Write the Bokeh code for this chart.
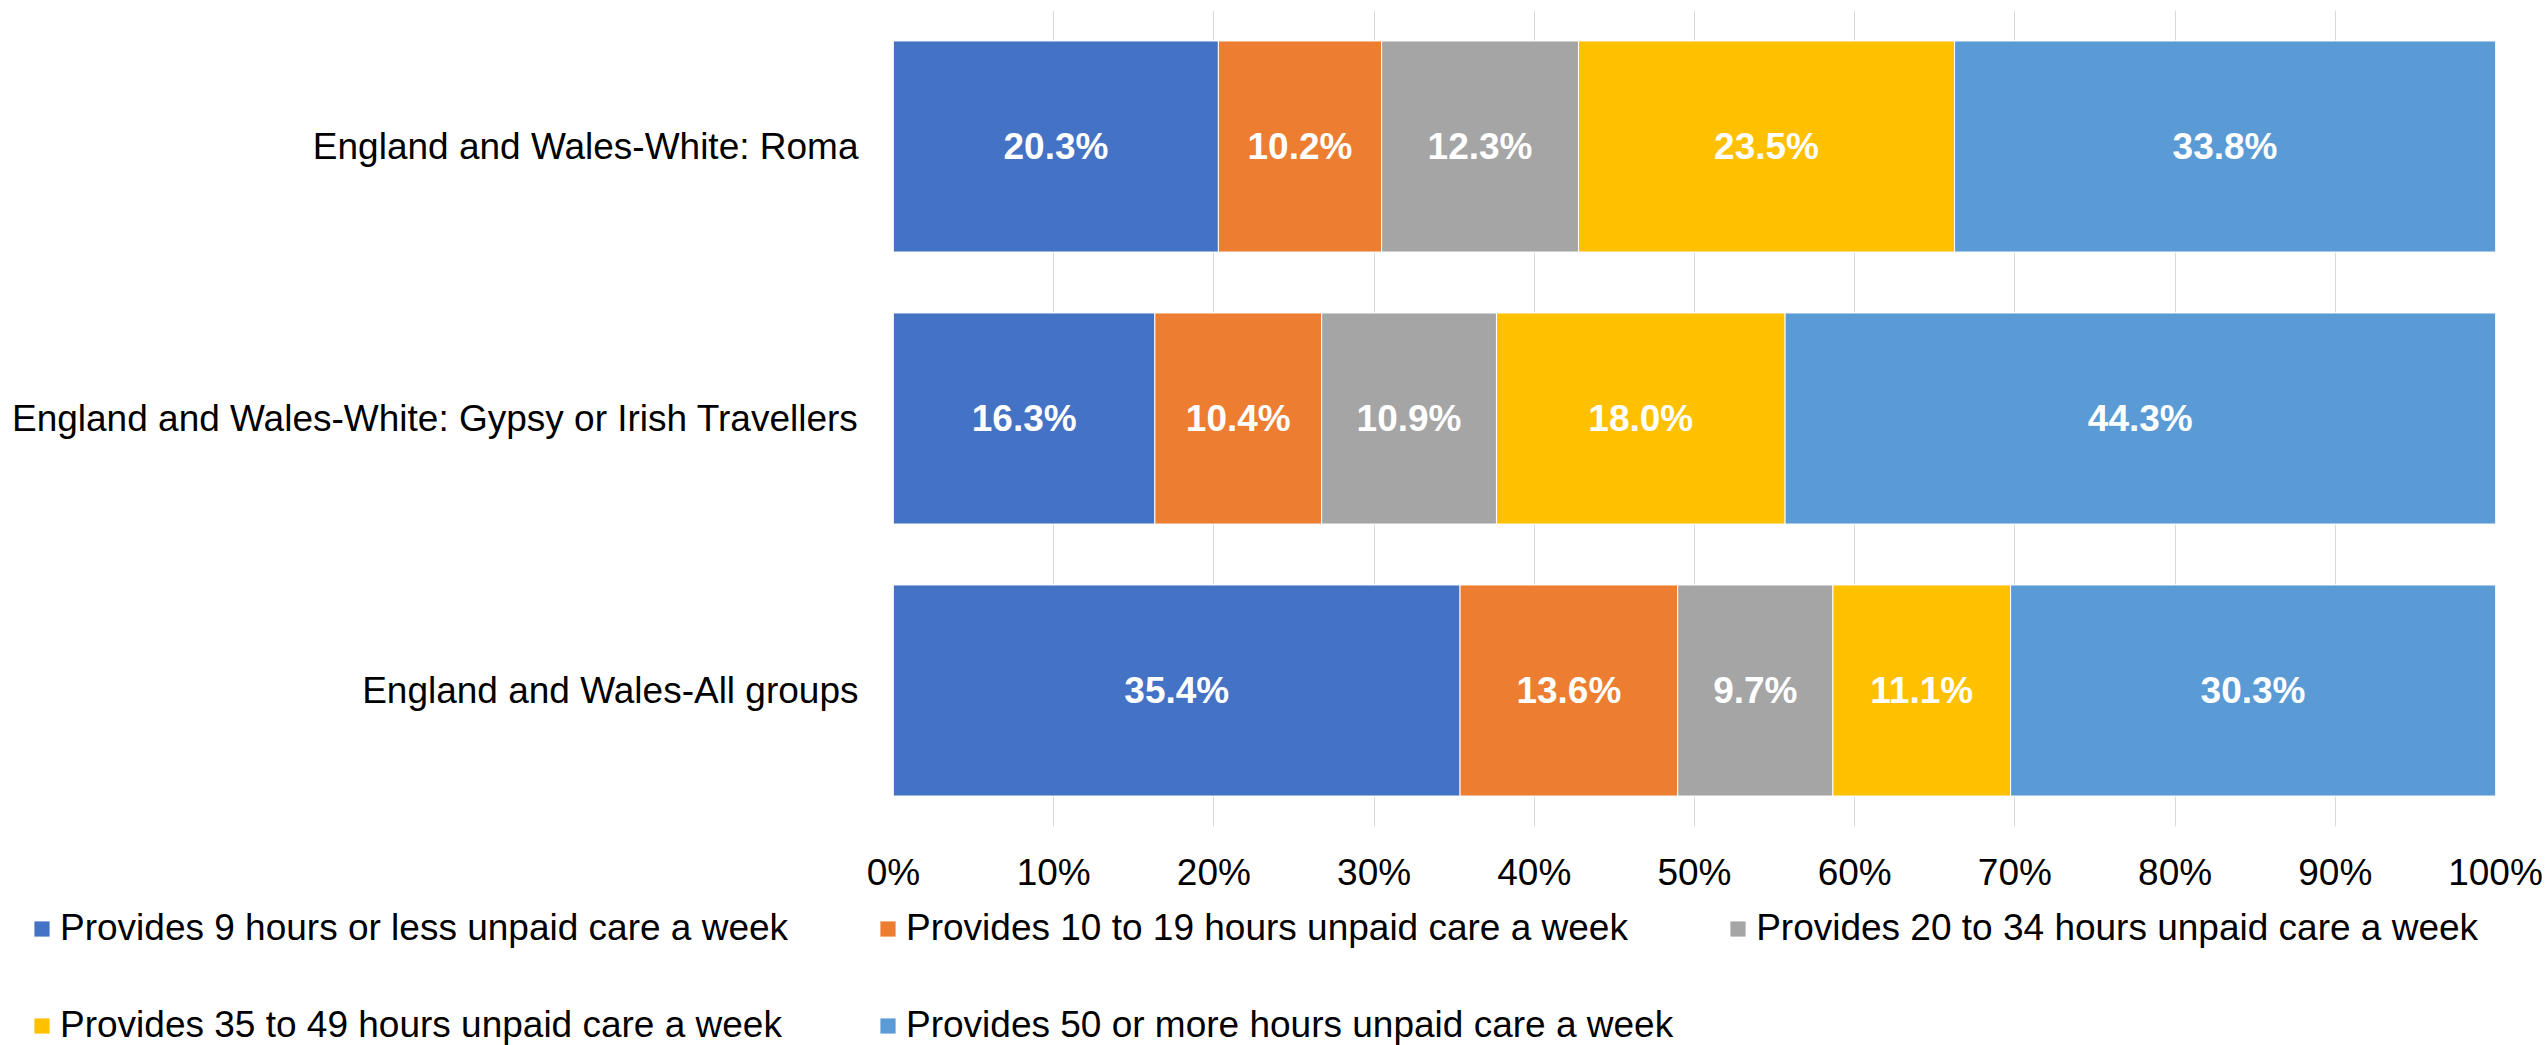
from bokeh.plotting import figure
from bokeh.layouts import column
from bokeh.models import (ColumnDataSource, Range1d, FactorRange, FixedTicker,
                          PrintfTickFormatter, Legend, LegendItem)
from bokeh.core.properties import value
from bokeh.embed import file_html
from bokeh.resources import INLINE

# ---------------- data ----------------
categories = [
    "England and Wales-All groups",
    "England and Wales-White: Gypsy or Irish Travellers",
    "England and Wales-White: Roma",
]
series_names = [
    "Provides 9 hours or less unpaid care a week",
    "Provides 10 to 19 hours unpaid care a week",
    "Provides 20 to 34 hours unpaid care a week",
    "Provides 35 to 49 hours unpaid care a week",
    "Provides 50 or more hours unpaid care a week",
]
care_9_or_less = [35.4, 16.3, 20.3]
care_10_to_19 = [13.6, 10.4, 10.2]
care_20_to_34 = [9.7, 10.9, 12.3]
care_35_to_49 = [11.1, 18.0, 23.5]
care_50_or_more = [30.3, 44.3, 33.8]
x_tick_values = [0, 10, 20, 30, 40, 50, 60, 70, 80, 90, 100]

series_values = [care_9_or_less, care_10_to_19, care_20_to_34,
                 care_35_to_49, care_50_or_more]
colors = ["#4472C4", "#ED7D31", "#A5A5A5", "#FFC000", "#5B9BD5"]

FONT = "Liberation Sans"
FS = "37px"

p = figure(width=2547, height=901,
           y_range=FactorRange(*categories), x_range=Range1d(0, 100),
           output_backend="svg", toolbar_location=None,
           min_border_left=893, min_border_right=52,
           min_border_top=10, min_border_bottom=75)
p.outline_line_color = None
p.frame_align = False

# 100% stacked: normalise each category total
totals = [sum(s[i] for s in series_values) for i in range(len(categories))]
left = [0.0] * len(categories)
for name, vals, col in zip(series_names, series_values, colors):
    share = [v / t * 100 for v, t in zip(vals, totals)]
    right = [l + s for l, s in zip(left, share)]
    src = ColumnDataSource(dict(
        cat=categories, left=left, right=right,
        mid=[(l + r) / 2 for l, r in zip(left, right)],
        lab=["%.1f%%" % v for v in vals]))
    p.hbar(y="cat", left="left", right="right", height=0.776, source=src,
           fill_color=col, line_color="white", line_width=1)
    p.text(x="mid", y="cat", text="lab", source=src, text_color="white",
           text_font=value(FONT), text_font_style="bold",
           text_font_size=FS, text_align="center", text_baseline="middle")
    left = right

# axes
p.xaxis.ticker = FixedTicker(ticks=x_tick_values)
p.xaxis.formatter = PrintfTickFormatter(format="%d%%")
for ax in (p.xaxis, p.yaxis):
    ax.axis_line_color = None
    ax.major_tick_line_color = None
    ax.minor_tick_line_color = None
    ax.major_tick_out = 0
    ax.major_tick_in = 0
    ax.major_label_text_font = FONT
    ax.major_label_text_font_size = FS
    ax.major_label_text_color = "#000000"
p.xaxis.major_label_standoff = 25
p.yaxis.major_label_standoff = 35

p.xgrid.ticker = FixedTicker(ticks=x_tick_values)
p.xgrid.grid_line_color = "#D9D9D9"
p.xgrid.grid_line_width = 1
p.ygrid.grid_line_color = None

# ---------------- legend strip ----------------
lg = figure(width=2547, height=144, x_range=Range1d(0, 1), y_range=Range1d(0, 1),
            output_backend="svg", toolbar_location=None,
            x_axis_location=None, y_axis_location=None,
            min_border_left=0, min_border_right=0,
            min_border_top=0, min_border_bottom=0)
lg.outline_line_color = None
lg.grid.grid_line_color = None
lg.frame_align = False
legend_renderers = []
for col in colors:
    # key swatch renderer: its single bar sits outside the visible range
    swatch = ColumnDataSource(dict(y=[-10], left=[0], right=[1]))
    legend_renderers.append(lg.hbar(y="y", left="left", right="right", height=1,
                                    source=swatch, fill_color=col, line_color=None))

legend = Legend(
    items=[LegendItem(label=n, renderers=[r]) for n, r in zip(series_names, legend_renderers)],
    location=(32, -1), orientation="horizontal", ncols=3,
    glyph_width=19, glyph_height=19, label_standoff=9,
    label_width=763, label_height=42, spacing=55,
    padding=0, margin=0, border_line_color=None, background_fill_alpha=0,
    label_text_font=FONT, label_text_font_size=FS, label_text_color="#000000",
)
lg.add_layout(legend, "center")

layout = column(p, lg, spacing=0)
open("out.html", "w").write(file_html(layout, INLINE))
